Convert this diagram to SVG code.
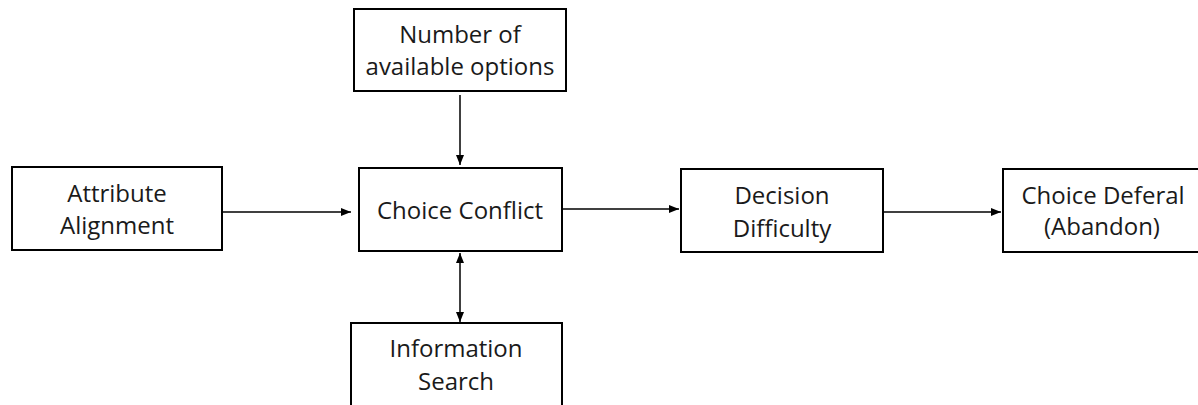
<svg xmlns="http://www.w3.org/2000/svg" width="1198" height="405" viewBox="0 0 1198 405">
<style>
.box{fill:#fff;stroke:#000;stroke-width:2}
.t{font-family:"Open Sans","Liberation Sans",sans-serif;font-size:24px;fill:#1a1a1a;text-anchor:middle}
.c{stroke:#000;stroke-width:1.5;fill:none}
</style>
<defs>
<marker id="ah" viewBox="0 0 10 10" refX="10" refY="5" markerWidth="10" markerHeight="10" markerUnits="userSpaceOnUse" orient="auto-start-reverse">
<path d="M0,1 L10,5 L0,9 z" fill="#000"/>
</marker>
</defs>
<rect width="1198" height="405" fill="#fff"/>
<g id="connectors">
<line class="c" x1="460" y1="95" x2="460" y2="165" marker-end="url(#ah)"/>
<line class="c" x1="460" y1="253" x2="460" y2="322" marker-start="url(#ah)" marker-end="url(#ah)"/>
<line class="c" x1="222" y1="212" x2="351" y2="212" marker-end="url(#ah)"/>
<line class="c" x1="562" y1="209" x2="679" y2="209" marker-end="url(#ah)"/>
<line class="c" x1="883" y1="212" x2="1001" y2="212" marker-end="url(#ah)"/>
</g>
<g id="n-options">
<rect class="box" x="354" y="9" width="212" height="82"/>
<text class="t" x="460" y="43">Number of</text>
<text class="t" x="460" y="75">available options</text>
</g>
<g id="n-conflict">
<rect class="box" x="359" y="168" width="203" height="83"/>
<text class="t" x="460" y="219">Choice Conflict</text>
</g>
<g id="n-search">
<rect class="box" x="351" y="323" width="211" height="95"/>
<text class="t" x="456" y="357">Information</text>
<text class="t" x="456" y="390">Search</text>
</g>
<g id="n-attribute">
<rect class="box" x="12" y="167" width="210" height="83"/>
<text class="t" x="117" y="202">Attribute</text>
<text class="t" x="117" y="234">Alignment</text>
</g>
<g id="n-difficulty">
<rect class="box" x="681" y="169" width="202" height="83"/>
<text class="t" x="782" y="204">Decision</text>
<text class="t" x="782" y="237">Difficulty</text>
</g>
<g id="n-deferal">
<rect class="box" x="1003" y="169" width="203" height="83"/>
<text class="t" x="1103" y="204">Choice Deferal</text>
<text class="t" x="1102" y="235">(Abandon)</text>
</g>
</svg>
